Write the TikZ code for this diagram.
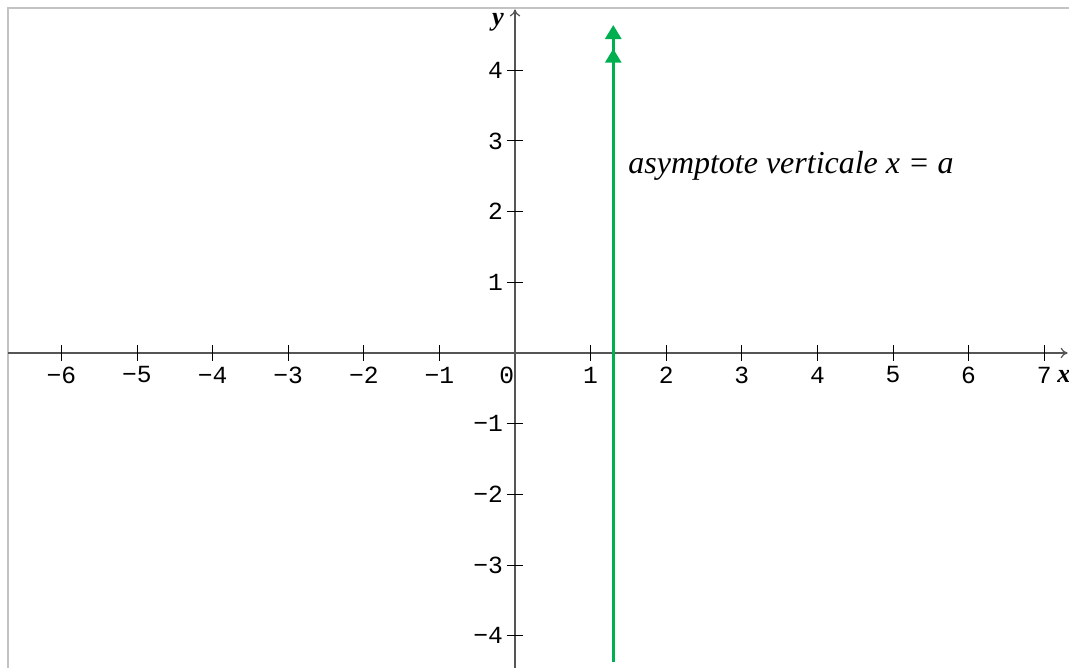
\documentclass[tikz,border=0pt]{standalone}
\usepackage{fontspec}
\setmainfont{Liberation Serif}
\setmonofont{Liberation Mono}
\usetikzlibrary{arrows.meta}

\definecolor{asygreen}{RGB}{0,176,80}
\definecolor{axisgray}{RGB}{85,85,85}
\definecolor{framegray}{RGB}{195,195,195}

\begin{document}
\begin{tikzpicture}[x=1.512cm, y=1.414cm,
    axis/.style={axisgray, line width=0.7pt, -{To[length=4pt,width=6pt]}},
    tickmark/.style={black, line width=0.5pt},
    ticklabel/.style={inner sep=0pt, font=\ttfamily\fontsize{14}{14}\selectfont},
    axislabel/.style={inner sep=0pt, font=\fontsize{15}{15}\selectfont\bfseries\itshape},
    asymptote/.style={asygreen, line width=1.9pt,
        -{Triangle[length=8pt,width=9pt,sep=5.5pt]Triangle[length=8pt,width=9pt]}},
    asylabel/.style={inner sep=0pt, font=\fontsize{18.2}{18.2}\selectfont\itshape}]

    \useasboundingbox (-6.812,-4.455) rectangle (7.328,4.993);

    % Frame
    \draw[framegray, line width=1pt] (-6.706,-4.455) -- (-6.706,4.880) -- (7.328,4.880);

    % Axes
    \coordinate (xstart) at (-6.706,0);
    \coordinate (xend) at (7.31,0);
    \coordinate (ystart) at (0,-4.455);
    \coordinate (yend) at (0,4.86);
    \draw[axis] (xstart) -- (xend);
    \draw[axis] (ystart) -- (yend);
    \node[axislabel] (xname) at (7.26,-0.33) {x};
    \node[axislabel] (yname) at (-0.225,4.68) {y};

    % Ticks on the x axis
    \foreach \i in {-6,...,-1} {
        \draw[tickmark] (\i,-0.113) -- (\i,0.113);
        \node[ticklabel] (xl\i) at (\i,-0.31) {\char"2212\relax\the\numexpr-\i\relax};
    }
    \foreach \i in {1,...,7} {
        \draw[tickmark] (\i,-0.113) -- (\i,0.113);
        \node[ticklabel] (xl\i) at (\i,-0.31) {\i};
    }
    \node[ticklabel] (xl0) at (-0.11,-0.31) {0};

    % Ticks on the y axis
    \foreach \j in {-4,...,-1} {
        \draw[tickmark] (-0.106,\j) -- (0.106,\j);
        \node[ticklabel, anchor=east] (yl\j) at (-0.155,\j) {\char"2212\relax\the\numexpr-\j\relax};
    }
    \foreach \j in {1,...,4} {
        \draw[tickmark] (-0.106,\j) -- (0.106,\j);
        \node[ticklabel, anchor=east] (yl\j) at (-0.155,\j) {\j};
    }

    % Vertical asymptote x = a
    \coordinate (asybot) at (1.3,-4.37);
    \coordinate (asytop) at (1.3,4.64);
    \draw[asymptote] (asybot) -- (asytop);
    \node[asylabel, anchor=west] (asytext) at (1.495,2.64) {asymptote verticale x = a};

\end{tikzpicture}
\end{document}
